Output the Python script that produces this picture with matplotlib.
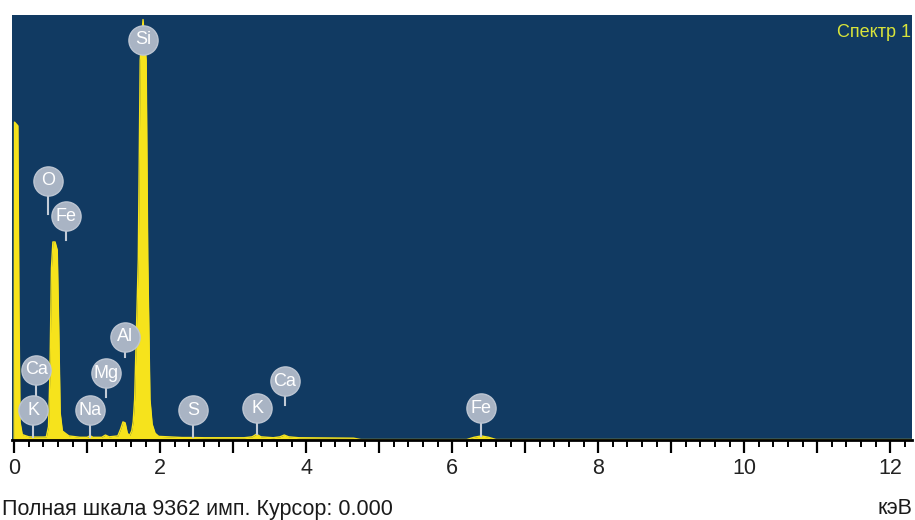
import numpy as np
import matplotlib
matplotlib.use('Agg')
import matplotlib.pyplot as plt

plt.rcParams['font.family'] = ['Liberation Sans', 'DejaVu Sans']

# spectrum outline (keV, counts)
energy_kev = [0.0, 0.005, 0.05, 0.065, 0.08, 0.11, 0.20, 0.30, 0.40, 0.44,
              0.47, 0.49, 0.51, 0.53, 0.56, 0.59, 0.61, 0.63, 0.66, 0.70,
              0.75, 0.90, 1.00, 1.04, 1.08, 1.20, 1.25, 1.30, 1.42, 1.46,
              1.49, 1.52, 1.55, 1.58, 1.61, 1.63, 1.65, 1.70, 1.726, 1.765,
              1.808, 1.83, 1.86, 1.89, 1.93, 1.98, 2.30, 2.45, 2.60, 3.15,
              3.26, 3.32, 3.38, 3.55, 3.64, 3.70, 3.76, 3.90, 4.30, 4.65,
              4.75, 6.20, 6.30, 6.40, 6.50, 6.60, 12.3]
counts = [0, 7030, 6950, 3000, 400, 120, 70, 65, 65, 70,
          300, 1500, 3800, 4380, 4380, 4200, 2500, 600, 200, 150,
          90, 60, 60, 95, 60, 60, 110, 70, 90, 250,
          400, 380, 150, 100, 200, 400, 900, 4000, 8400, 9300,
          8400, 4000, 900, 350, 150, 80, 55, 55, 50, 50,
          70, 130, 70, 50, 70, 110, 70, 50, 45, 40,
          10, 10, 60, 90, 60, 10, 10]

# element markers: name, label energy, label height, stem end height
el_names = ['Si', 'O', 'Fe', 'Al', 'Ca', 'Mg', 'K', 'Na', 'S', 'K', 'Ca', 'Fe']
el_kev = [1.77, 0.47, 0.71, 1.52, 0.30, 1.26, 0.26, 1.04, 2.45, 3.33, 3.71, 6.40]
el_y = [8850, 5730, 4950, 2280, 1550, 1480, 660, 660, 660, 700, 1300, 700]
el_stem = [8850, 5000, 4420, 1830, 950, 950, 70, 70, 70, 130, 770, 90]

full_scale = 9362

fig = plt.figure(figsize=(9.15, 5.2), dpi=100)
ax = fig.add_axes([12/915, 80/520, 900/915, 425/520])
ax.set_facecolor('#113a62')

ax.fill_between(energy_kev, counts, 0, color='#f6e31c', lw=0, zorder=2)
ax.plot(energy_kev, counts, color='#f6e31c', lw=1, zorder=2)

for name, x, y, ys in zip(el_names, el_kev, el_y, el_stem):
    ax.plot([x, x], [y, ys], color='#c3cbd6', lw=1.5, zorder=3)
    ax.plot(x, y, 'o', ms=21, color='#a9b4c4', mec='#bcc5d2', mew=1, zorder=4)
    ax.text(x, y, name, color='white', fontsize=13, ha='center', va='center', zorder=5)

ax.set_xlim(-0.03, 12.3)
ax.set_ylim(0, 9400)

for s in ['top', 'right', 'left']:
    ax.spines[s].set_visible(False)
ax.spines['bottom'].set_linewidth(2)
ax.spines['bottom'].set_color('black')

ax.set_xticks(np.arange(0, 13, 1))
ax.set_xticklabels([str(i) if i % 2 == 0 else '' for i in range(13)])
ax.set_xticks(np.arange(0, 12.3, 0.2), minor=True)
ax.set_yticks([])
ax.tick_params(axis='x', which='major', length=9, width=1.6, labelsize=15.5, pad=4, colors='black')
ax.tick_params(axis='x', which='minor', length=5, width=1.4, colors='black')
for lab in ax.get_xticklabels():
    lab.set_color('#222222')

ax.text(0.9987, 0.958, 'Спектр 1', transform=ax.transAxes, ha='right', va='center',
        color='#d9e43a', fontsize=13)

fig.text(2/915, 11/520, 'Полная шкала %d имп. Курсор: 0.000' % full_scale,
         ha='left', va='center', fontsize=15.5, color='#1a1a1a')
fig.text(912/915, 11/520, 'кэВ', ha='right', va='center', fontsize=15.5, color='#1a1a1a')

fig.savefig('out.png', dpi=100)
